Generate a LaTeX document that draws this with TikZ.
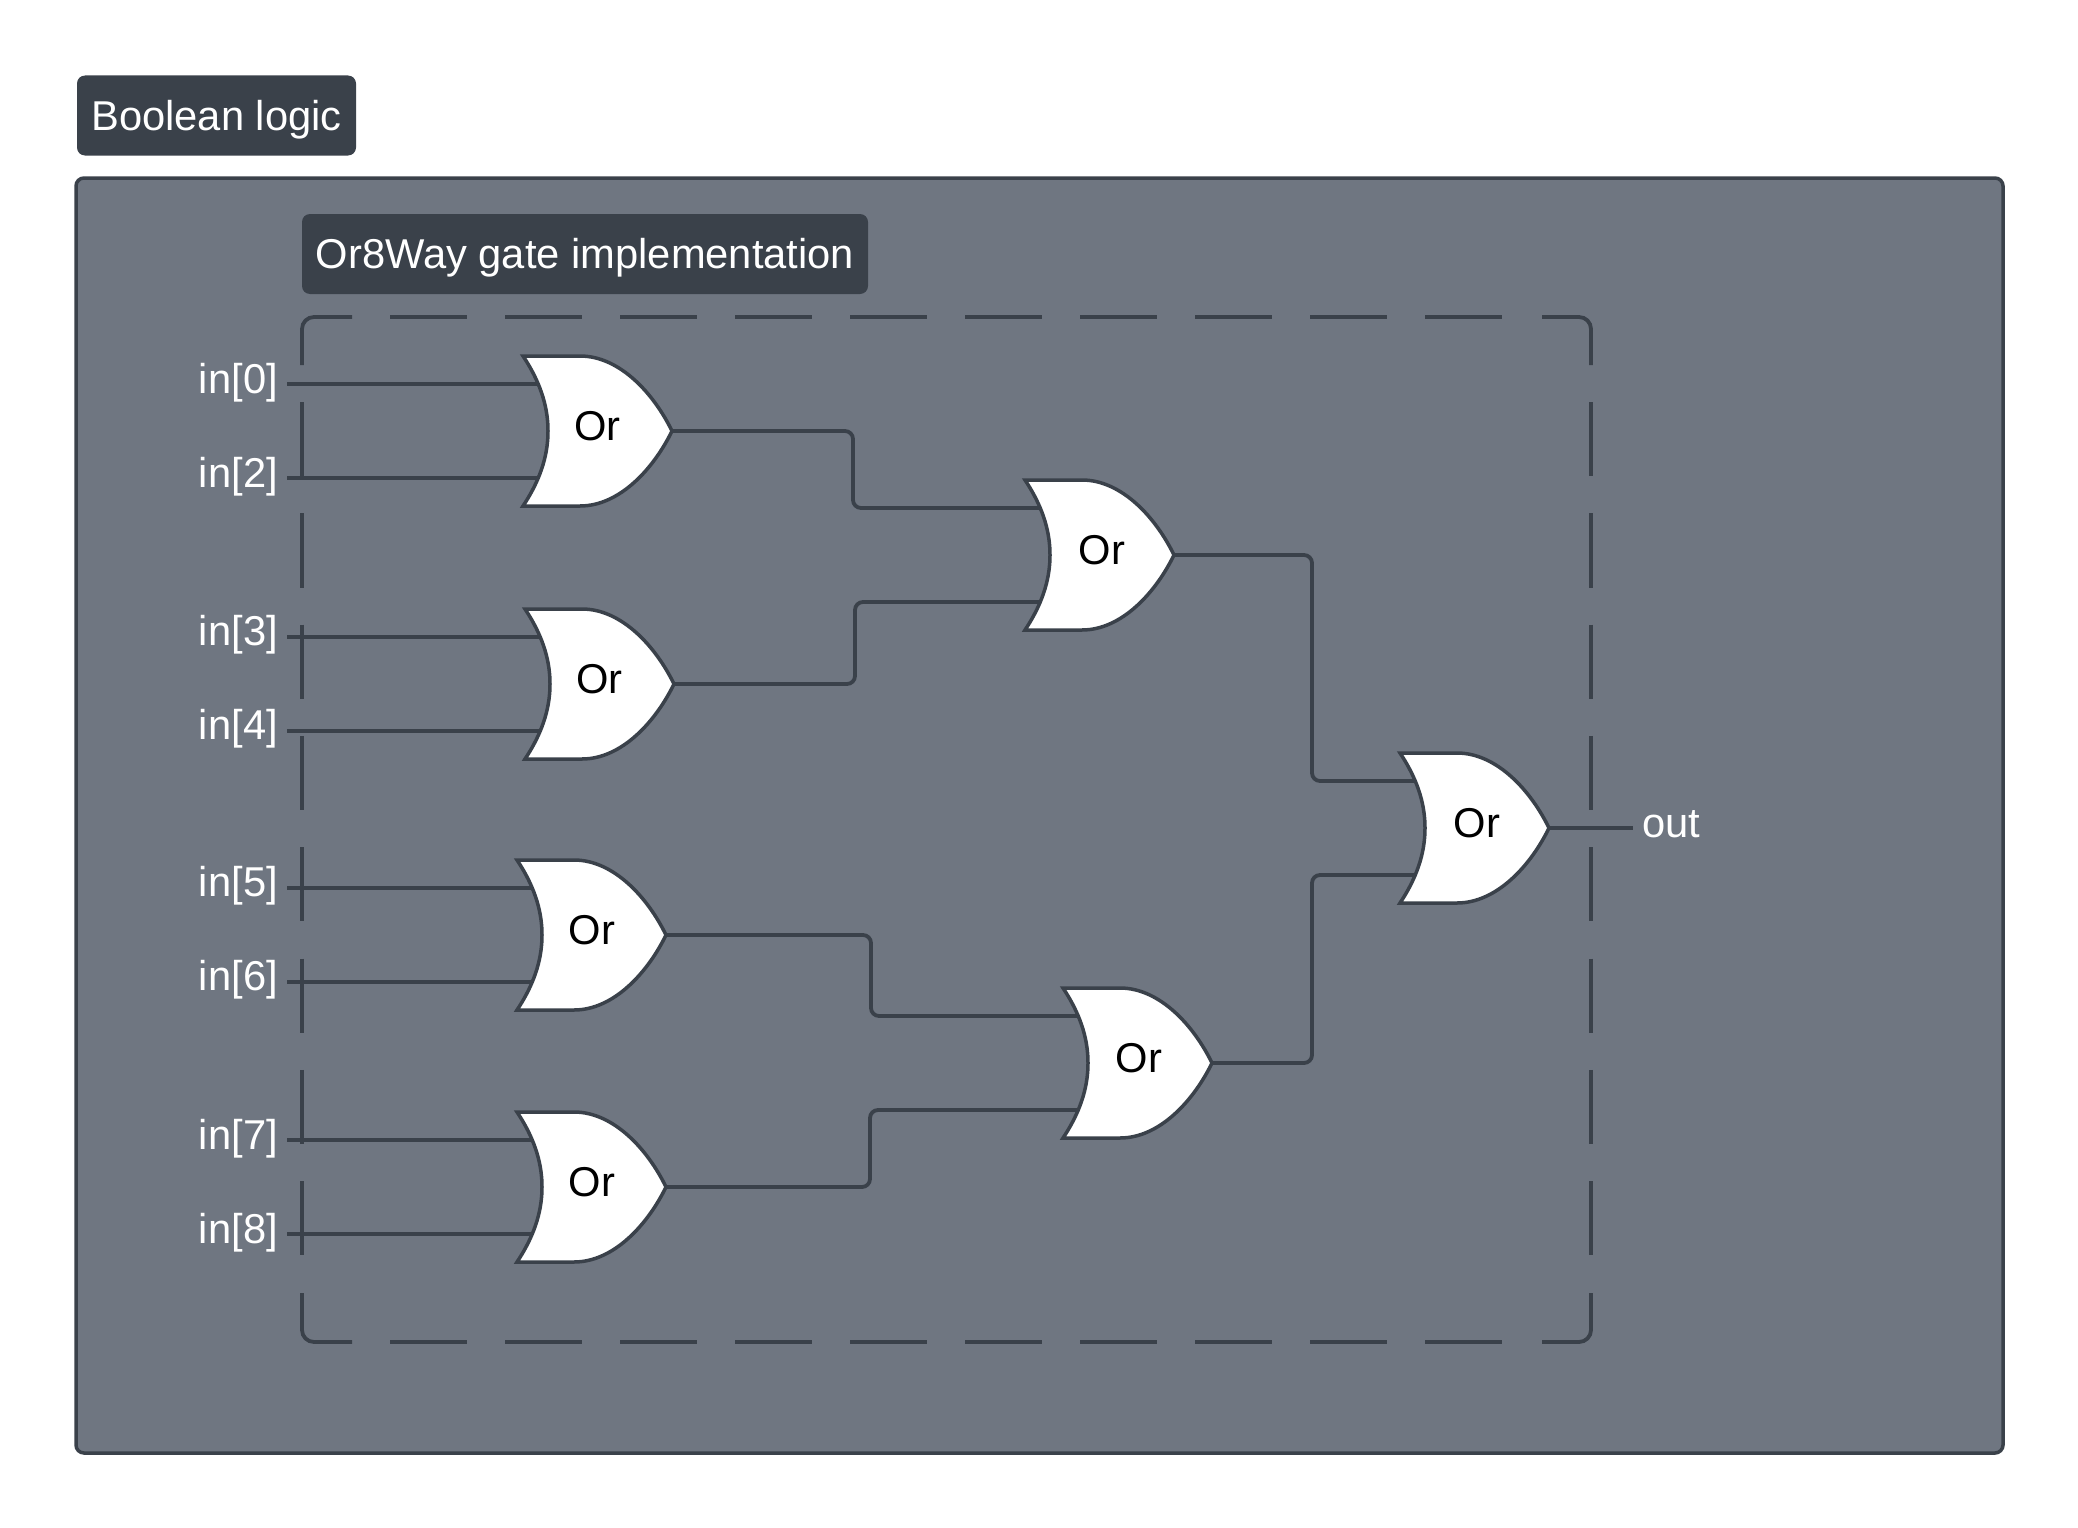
\documentclass[tikz,border=0pt]{standalone}
\usepackage{fontspec}
\setmainfont{Liberation Sans}
\usepackage{xcolor}
\usepackage{tikz}
\definecolor{slate}{HTML}{3A414A}
\definecolor{panelgray}{HTML}{6F7681}
\newcommand{\orgate}[4][75]{
  \begin{scope}[shift={(#3,#4)}]
    \draw[gate](0,-75)--(57,-75) .. controls (97,-75) and (131,-37) .. (149,0)
      .. controls (131,37) and (97,75) .. (57,75)--(0,75)
      .. controls (20,45) and (25,20) .. (25,0)
      .. controls (25,-20) and (20,-45) .. (0,-75)--cycle;
    \node[gatetext](#2) at (#1,-5){Or};
    \coordinate(#2-a) at (16,-47);
    \coordinate(#2-b) at (16,47);
    \coordinate(#2-o) at (149,0);
  \end{scope}}
\begin{document}
\begin{tikzpicture}[x=1pt,y=-1pt,
  every node/.style={font=\fontsize{41.7}{42}\selectfont,text height=29pt,text depth=0pt},
  panel/.style={draw=slate,fill=panelgray,line width=3.5pt,rounded corners=8pt},
  titlebox/.style={fill=slate,text=white,rounded corners=8pt,minimum height=80pt,inner sep=0pt},
  corner/.style={draw=slate,line width=3.8pt,rounded corners=12pt},
  hdash/.style={draw=slate,line width=4pt,dash pattern=on 77pt off 38pt},
  vdash/.style={draw=slate,line width=3.6pt,dash pattern=on 74.2pt off 37.1pt},
  gate/.style={draw=slate,fill=white,line width=3.5pt,line join=miter},
  gatetext/.style={text=black,inner sep=0pt},
  pin/.style={text=white,inner xsep=9pt,inner ysep=0pt},
  wire/.style={draw=slate,line width=3.8pt,rounded corners=8pt}]
  \useasboundingbox (0,0) rectangle (2078,1528);
  \draw[panel](76,178) rectangle (2003,1453);
  \node[titlebox,minimum width=279pt](T) at (216.5,115.5){Boolean logic};
  \node[titlebox,minimum width=566pt](S) at (585,254){Or8Way gate implementation};
  % dashed frame
  \draw[corner](352,317)-|(302,365); \draw[corner](1542,317)-|(1591,365);
  \draw[corner](352,1342)-|(302,1293); \draw[corner](1542,1342)-|(1591,1293);
  \draw[hdash](390,317)--(1504,317); \draw[hdash](390,1342)--(1504,1342);
  \draw[vdash](302,402)--(302,1256); \draw[vdash](1591,402)--(1591,1256);
  % gates
  \orgate[74.5]{A}{523}{431}
  \orgate[74.5]{B}{525}{684}
  \orgate{C}{517}{935}
  \orgate{D}{517}{1187}
  \orgate[77]{E}{1025}{555}
  \orgate[76]{F}{1063}{1063}
  \orgate[77]{G}{1400}{828}
  % inputs
  \node[pin,anchor=east](I0) at (287,378.5){in[0]};
  \node[pin,anchor=east](I2) at (287,472.5){in[2]};
  \node[pin,anchor=east](I3) at (287,630.5){in[3]};
  \node[pin,anchor=east](I4) at (287,724.5){in[4]};
  \node[pin,anchor=east](I5) at (287,881.5){in[5]};
  \node[pin,anchor=east](I6) at (287,975.5){in[6]};
  \node[pin,anchor=east](I7) at (287,1134.5){in[7]};
  \node[pin,anchor=east](I8) at (287,1228.5){in[8]};
  \node[pin,anchor=west](O) at (1633,822.5){out};
  \draw[wire](I0.east|-A-a)--(A-a); \draw[wire](I2.east|-A-b)--(A-b);
  \draw[wire](I3.east|-B-a)--(B-a); \draw[wire](I4.east|-B-b)--(B-b);
  \draw[wire](I5.east|-C-a)--(C-a); \draw[wire](I6.east|-C-b)--(C-b);
  \draw[wire](I7.east|-D-a)--(D-a); \draw[wire](I8.east|-D-b)--(D-b);
  \draw[wire](A-o)--++(181,0)|-(E-a); \draw[wire](B-o)--++(181,0)|-(E-b);
  \draw[wire](C-o)--++(205,0)|-(F-a); \draw[wire](D-o)--++(204,0)|-(F-b);
  \draw[wire](E-o)--++(138,0)|-(G-a); \draw[wire](F-o)--++(100,0)|-(G-b);
  \draw[wire](G-o)--(O.west|-G-o);
\end{tikzpicture}
\end{document}
